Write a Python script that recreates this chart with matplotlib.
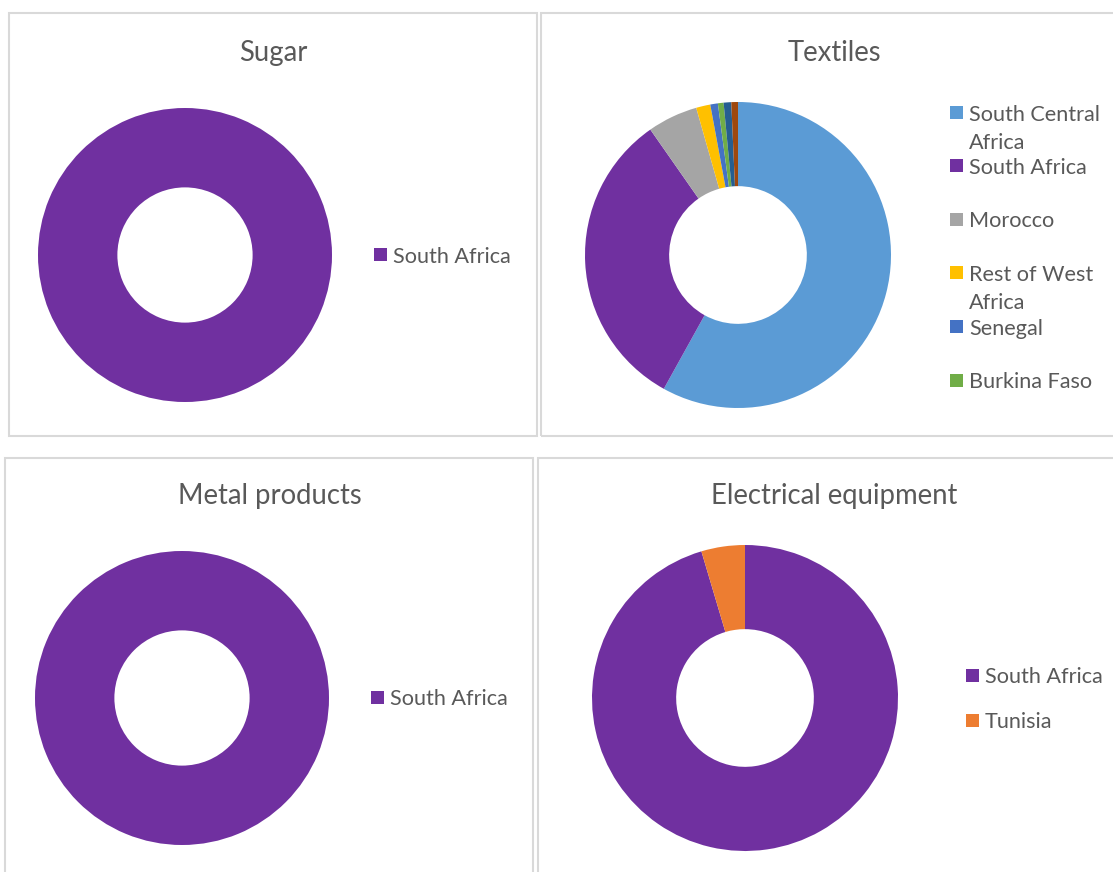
import matplotlib
matplotlib.use('Agg')
import matplotlib.pyplot as plt
import matplotlib.patches as patches

plt.rcParams['font.family'] = ['Lato', 'DejaVu Sans']

W, H = 1113, 872
TEXT = '#595959'
BORDER = '#D9D9D9'

# Shares by destination (%)
sugar_labels = ['South Africa']
sugar_values = [100.0]
sugar_colors = ['#7030A0']

textiles_labels = ['South Central\nAfrica', 'South Africa', 'Morocco',
                   'Rest of West\nAfrica', 'Senegal', 'Burkina Faso',
                   'Other', 'Other ']
textiles_values = [58.0, 32.2, 5.3, 1.5, 0.8, 0.6, 0.8, 0.7]
textiles_colors = ['#5B9BD5', '#7030A0', '#A5A5A5', '#FFC000',
                   '#4472C4', '#70AD47', '#255E91', '#9E480E']
textiles_legend_n = 6   # the rest of the legend runs off the chart area

metal_labels = ['South Africa']
metal_values = [100.0]
metal_colors = ['#7030A0']

electrical_labels = ['South Africa', 'Tunisia']
electrical_values = [95.4, 4.6]
electrical_colors = ['#7030A0', '#ED7D31']


def fx(x):
    return x / W


def fy(y):
    return 1 - y / H


def panel_box(fig, x0, y0, x1, y1):
    fig.add_artist(patches.Rectangle(
        (fx(x0), fy(y1)), fx(x1) - fx(x0), fy(y0) - fy(y1),
        transform=fig.transFigure, facecolor='none', edgecolor=BORDER,
        linewidth=1.5, zorder=0))


def donut(fig, cx, cy, r, values, colors, hole=0.46):
    ax = fig.add_axes([fx(cx - r), fy(cy + r), 2 * r / W, 2 * r / H])
    ax.pie(values, colors=colors, startangle=90, counterclock=False,
           radius=1.0, wedgeprops=dict(width=1 - hole, linewidth=0))
    ax.set_xlim(-1, 1)
    ax.set_ylim(-1, 1)
    ax.set_aspect('auto')
    ax.axis('off')
    return ax


def legend(fig, x, ys, labels, colors, size=15.6, box=13):
    for y, lab, col in zip(ys, labels, colors):
        fig.add_artist(patches.Rectangle(
            (fx(x), fy(y + box / 2)), box / W, box / H,
            transform=fig.transFigure, facecolor=col, edgecolor='none'))
        fig.text(fx(x + box + 6), fy(y - 8), lab, ha='left', va='top',
                 fontsize=size, color=TEXT, linespacing=1.5)


fig = plt.figure(figsize=(W / 100, H / 100), dpi=100)

panel_box(fig, 9, 13, 537, 436)
panel_box(fig, 541, 13, 1130, 436)
panel_box(fig, 5, 458, 533, 890)
panel_box(fig, 538, 458, 1130, 890)

title_kw = dict(ha='center', va='center', fontsize=19.8, color=TEXT)
fig.text(fx(273), fy(53), 'Sugar', **title_kw)
fig.text(fx(834), fy(53), 'Textiles', **title_kw)
fig.text(fx(270), fy(496), 'Metal products', **title_kw)
fig.text(fx(834), fy(496), 'Electrical equipment', **title_kw)

donut(fig, 185, 255, 147, sugar_values, sugar_colors)
donut(fig, 738, 255, 153, textiles_values, textiles_colors, hole=0.45)
donut(fig, 182, 698, 147, metal_values, metal_colors)
donut(fig, 745, 698, 153, electrical_values, electrical_colors, hole=0.45)

legend(fig, 374, [255], sugar_labels, sugar_colors)
legend(fig, 950, [113, 166, 219, 273, 327, 380],
       textiles_labels[:textiles_legend_n],
       textiles_colors[:textiles_legend_n])
legend(fig, 371, [697], metal_labels, metal_colors)
legend(fig, 966, [675, 720], electrical_labels, electrical_colors)

fig.savefig('out.png', dpi=100, facecolor='white')
